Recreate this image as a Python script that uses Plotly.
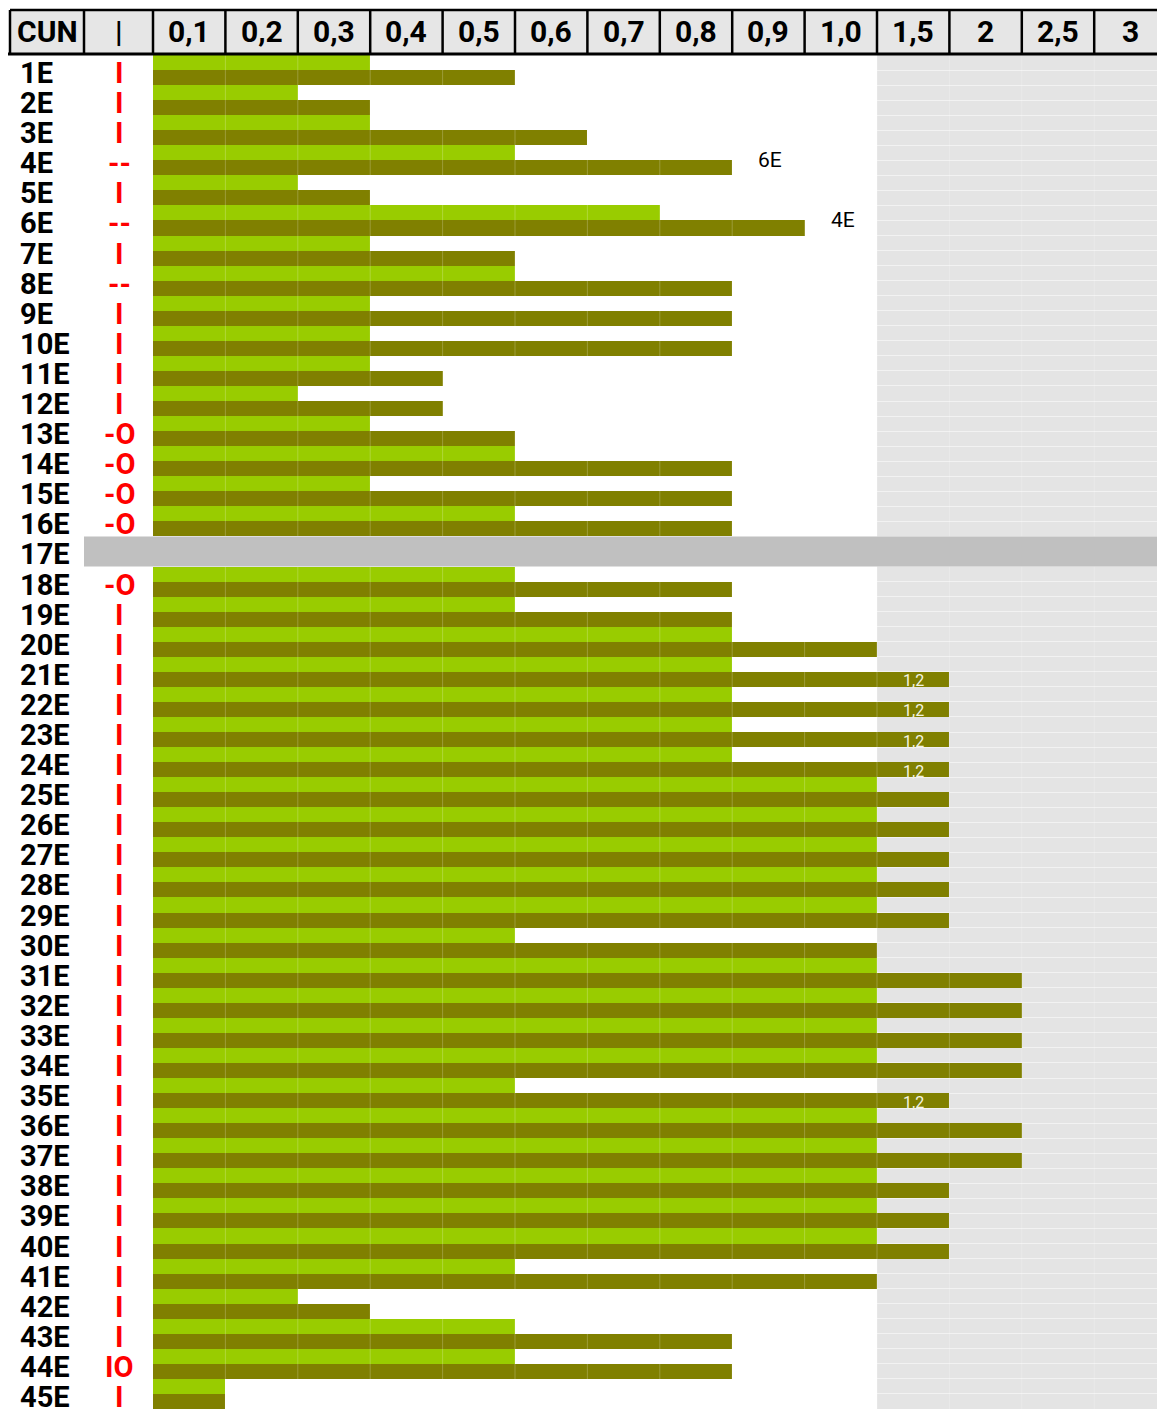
import plotly.graph_objects as go

# ---------------- data ----------------
col_labels = ["0,1", "0,2", "0,3", "0,4", "0,5", "0,6", "0,7", "0,8", "0,9", "1,0",
              "1,5", "2", "2,5", "3"]
col_values = [0.1, 0.2, 0.3, 0.4, 0.5, 0.6, 0.7, 0.8, 0.9, 1.0, 1.5, 2.0, 2.5, 3.0]

row_labels = ["1E", "2E", "3E", "4E", "5E", "6E", "7E", "8E", "9E", "10E",
              "11E", "12E", "13E", "14E", "15E", "16E", "17E", "18E", "19E", "20E",
              "21E", "22E", "23E", "24E", "25E", "26E", "27E", "28E", "29E", "30E",
              "31E", "32E", "33E", "34E", "35E", "36E", "37E", "38E", "39E", "40E",
              "41E", "42E", "43E", "44E", "45E"]

marks = ["I", "I", "I", "--", "I", "--", "I", "--", "I", "I",
         "I", "I", "-O", "-O", "-O", "-O", "", "-O", "I", "I",
         "I", "I", "I", "I", "I", "I", "I", "I", "I", "I",
         "I", "I", "I", "I", "I", "I", "I", "I", "I", "I",
         "I", "I", "I", "IO", "I"]

green_vals = [0.3, 0.2, 0.3, 0.5, 0.2, 0.7, 0.3, 0.5, 0.3, 0.3,
              0.3, 0.2, 0.3, 0.5, 0.3, 0.5, None, 0.5, 0.5, 0.8,
              0.8, 0.8, 0.8, 0.8, 1.0, 1.0, 1.0, 1.0, 1.0, 0.5,
              1.0, 1.0, 1.0, 1.0, 0.5, 1.0, 1.0, 1.0, 1.0, 1.0,
              0.5, 0.2, 0.5, 0.5, 0.1]

olive_vals = [0.5, 0.3, 0.6, 0.8, 0.3, 0.9, 0.5, 0.8, 0.8, 0.8,
              0.4, 0.4, 0.5, 0.8, 0.8, 0.8, None, 0.8, 0.8, 1.0,
              1.2, 1.2, 1.2, 1.2, 1.5, 1.5, 1.5, 1.5, 1.5, 1.0,
              2.0, 2.0, 2.0, 2.0, 1.2, 2.0, 2.0, 1.5, 1.5, 1.5,
              1.0, 0.3, 0.8, 0.8, 0.1]

side_notes = [("6E", 4), ("4E", 6)]   # (text, row)
blank_row = "17E"

# ---------------- layout constants ----------------
W, H = 1157, 1409
TOP = 55                 # top of plot area (px)
X0 = 153                 # px of first column boundary
U = 72.4                 # px per column
n_rows = len(row_labels)

GREEN = "#99CC00"
OLIVE = "#808000"
FONT = "Roboto, Liberation Sans, sans-serif"


def px2x(p):
    return (p - X0) / U


def py2paper(p):
    return (H - p) / (H - TOP)


def to_cols(v):
    """number of table columns a value reaches (first column >= value)"""
    if v is None:
        return None
    return sum(1 for c in col_values if c < v - 1e-9) + 1


fig = go.Figure()

rows_y = list(range(1, n_rows + 1))
fig.add_trace(go.Bar(
    orientation="h", base=0,
    x=[to_cols(v) for v in green_vals],
    y=[r - 0.75 for r in rows_y], width=0.5,
    marker=dict(color=GREEN, line=dict(width=0)),
    hoverinfo="skip", showlegend=False))
fig.add_trace(go.Bar(
    orientation="h", base=0,
    x=[to_cols(v) for v in olive_vals],
    y=[r - 0.25 for r in rows_y], width=0.5,
    marker=dict(color=OLIVE, line=dict(width=0)),
    hoverinfo="skip", showlegend=False))

shapes = []
# grey zone beyond 1,0
shapes.append(dict(type="rect", xref="x", yref="y", x0=10, x1=14.5, y0=0, y1=n_rows,
                   fillcolor="#E4E4E4", line=dict(width=0), layer="below"))
# faint column lines over the bars
for k in range(1, len(col_labels)):
    shapes.append(dict(type="line", xref="x", yref="y", x0=k, x1=k, y0=0, y1=n_rows,
                       line=dict(color="rgba(255,255,255,0.22)", width=1), layer="above"))
# blank row band
bi = row_labels.index(blank_row)
shapes.append(dict(type="rect", xref="x", yref="y", x0=px2x(84), x1=14.5, y0=bi, y1=bi + 1,
                   fillcolor="#C0C0C0", line=dict(width=0), layer="above"))

# header
hy0, hy1 = py2paper(54), py2paper(10)
shapes.append(dict(type="rect", xref="x", yref="paper", x0=px2x(10), x1=14.5, y0=hy0, y1=hy1,
                   fillcolor="#E6E6E6", line=dict(width=0), layer="above"))
shapes.append(dict(type="line", xref="x", yref="paper", x0=px2x(10), x1=14.5, y0=hy1, y1=hy1,
                   line=dict(color="black", width=2.5), layer="above"))
shapes.append(dict(type="line", xref="x", yref="paper", x0=px2x(8), x1=14.5, y0=hy0, y1=hy0,
                   line=dict(color="black", width=3), layer="above"))
sep = [px2x(10), px2x(84)] + list(range(0, len(col_labels)))
for s in sep:
    shapes.append(dict(type="line", xref="x", yref="paper", x0=s, x1=s, y0=hy0, y1=hy1,
                       line=dict(color="black", width=2.5), layer="above"))

ann = []
head_y = py2paper(31)
head_font = dict(family=FONT, size=30, color="black", weight="bold")
ann.append(dict(x=px2x(47), y=head_y, xref="x", yref="paper", text="CUN", showarrow=False,
                font=head_font, xanchor="center", yanchor="middle"))
ann.append(dict(x=px2x(119), y=head_y, xref="x", yref="paper", text="|", showarrow=False,
                font=head_font, xanchor="center", yanchor="middle"))
for k, lab in enumerate(col_labels):
    ann.append(dict(x=k + 0.5, y=head_y, xref="x", yref="paper", text=lab, showarrow=False,
                    font=head_font, xanchor="center", yanchor="middle"))

for i, lab in enumerate(row_labels):
    ann.append(dict(x=px2x(18), y=i + 0.5, xref="x", yref="y", text=lab, showarrow=False,
                    font=dict(family=FONT, size=29, color="black", weight="bold"),
                    xanchor="left", yanchor="middle", yshift=-3))
    if marks[i]:
        ann.append(dict(x=px2x(119), y=i + 0.5, xref="x", yref="y", text=marks[i],
                        showarrow=False,
                        font=dict(family=FONT, size=29, color="#FF0000", weight="bold"),
                        xanchor="center", yanchor="middle", yshift=-3))

# value notes where the value is below the column reached
for i, v in enumerate(olive_vals):
    if v is not None and v not in col_values:
        ann.append(dict(x=to_cols(v) - 0.5, y=i + 0.8, xref="x", yref="y",
                        text=f"{v:.1f}".replace(".", ","), showarrow=False,
                        font=dict(family=FONT, size=16, color="#F4F4E0"),
                        xanchor="center", yanchor="middle"))

for txt, r in side_notes:
    ann.append(dict(x=to_cols(olive_vals[r - 1]), y=r - 0.5, xref="x", yref="y", text=txt,
                    showarrow=False, xshift=24,
                    font=dict(family=FONT, size=21, color="black"),
                    xanchor="left", yanchor="middle"))

fig.update_layout(
    width=W, height=H,
    margin=dict(l=0, r=0, t=TOP, b=0, pad=0),
    paper_bgcolor="white", plot_bgcolor="white",
    barmode="overlay", bargap=0,
    xaxis=dict(range=[px2x(0), px2x(W)], showgrid=False, zeroline=False,
               showticklabels=False, ticks="", fixedrange=True),
    yaxis=dict(range=[n_rows, 0], showgrid=True, gridcolor="rgba(255,255,255,0.5)",
               gridwidth=1, dtick=0.5, tick0=0, zeroline=False,
               showticklabels=False, ticks="", fixedrange=True),
    shapes=shapes, annotations=ann,
    showlegend=False,
)

fig.write_html("out.html", config={"displayModeBar": False},
               post_script="document.body.style.margin='0';document.body.style.padding='0';")
